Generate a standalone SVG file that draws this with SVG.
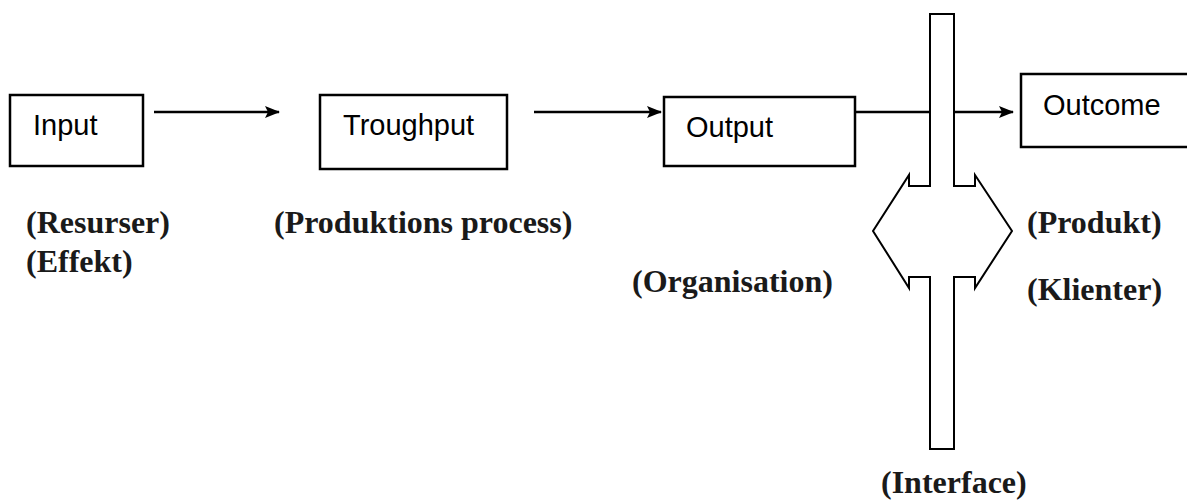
<svg xmlns="http://www.w3.org/2000/svg" width="1187" height="502" viewBox="0 0 1187 502">
<style>
.box{fill:#fff;stroke:#000;stroke-width:2.5}
.lbl{font-family:"Liberation Sans",Arial,sans-serif;font-size:29px;fill:#000}
.note{font-family:"Liberation Serif","Times New Roman",serif;font-size:32px;font-weight:bold;fill:#1a1a1a}
.conn{stroke:#000;stroke-width:2.5;fill:none}
.pillar{fill:#fff;stroke:#000;stroke-width:2;stroke-linejoin:miter}
</style>
<defs>
<marker id="ah" markerWidth="15" markerHeight="12" refX="14" refY="6" orient="auto" markerUnits="userSpaceOnUse">
<path d="M0,0 L15,6 L0,12 L3,6 Z" fill="#000"/>
</marker>
</defs>
<rect width="1187" height="502" fill="#fff"/>
<g id="connectors">
<line class="conn" x1="154" y1="112" x2="279" y2="112" marker-end="url(#ah)"/>
<line class="conn" x1="534" y1="112" x2="661" y2="112" marker-end="url(#ah)"/>
<line class="conn" x1="855" y1="112" x2="1013" y2="112" marker-end="url(#ah)"/>
</g>
<g id="interface">
<path class="pillar" d="M930,14 L954,14 L954,186 L975,186 L975,175 L1012,231 L975,288 L975,277 L954,277 L954,449 L930,449 L930,277 L909,277 L909,288 L873,231 L909,175 L909,186 L930,186 Z"/>
</g>
<g id="input">
<rect class="box" x="10" y="95" width="133" height="71"/>
<text class="lbl" x="33" y="135">Input</text>
</g>
<g id="troughput">
<rect class="box" x="320" y="95" width="187" height="74"/>
<text class="lbl" x="343" y="135">Troughput</text>
</g>
<g id="output">
<rect class="box" x="664" y="97" width="191" height="69"/>
<text class="lbl" x="686" y="137">Output</text>
</g>
<g id="outcome">
<rect class="box" x="1021" y="74" width="180" height="73"/>
<text class="lbl" x="1043" y="115">Outcome</text>
</g>
<g id="notes">
<text class="note" x="26" y="233">(Resurser)</text>
<text class="note" x="26" y="272">(Effekt)</text>
<text class="note" x="274" y="233">(Produktions process)</text>
<text class="note" x="632" y="292">(Organisation)</text>
<text class="note" x="1027" y="233">(Produkt)</text>
<text class="note" x="1027" y="300">(Klienter)</text>
<text class="note" x="881" y="493">(Interface)</text>
</g>
</svg>
